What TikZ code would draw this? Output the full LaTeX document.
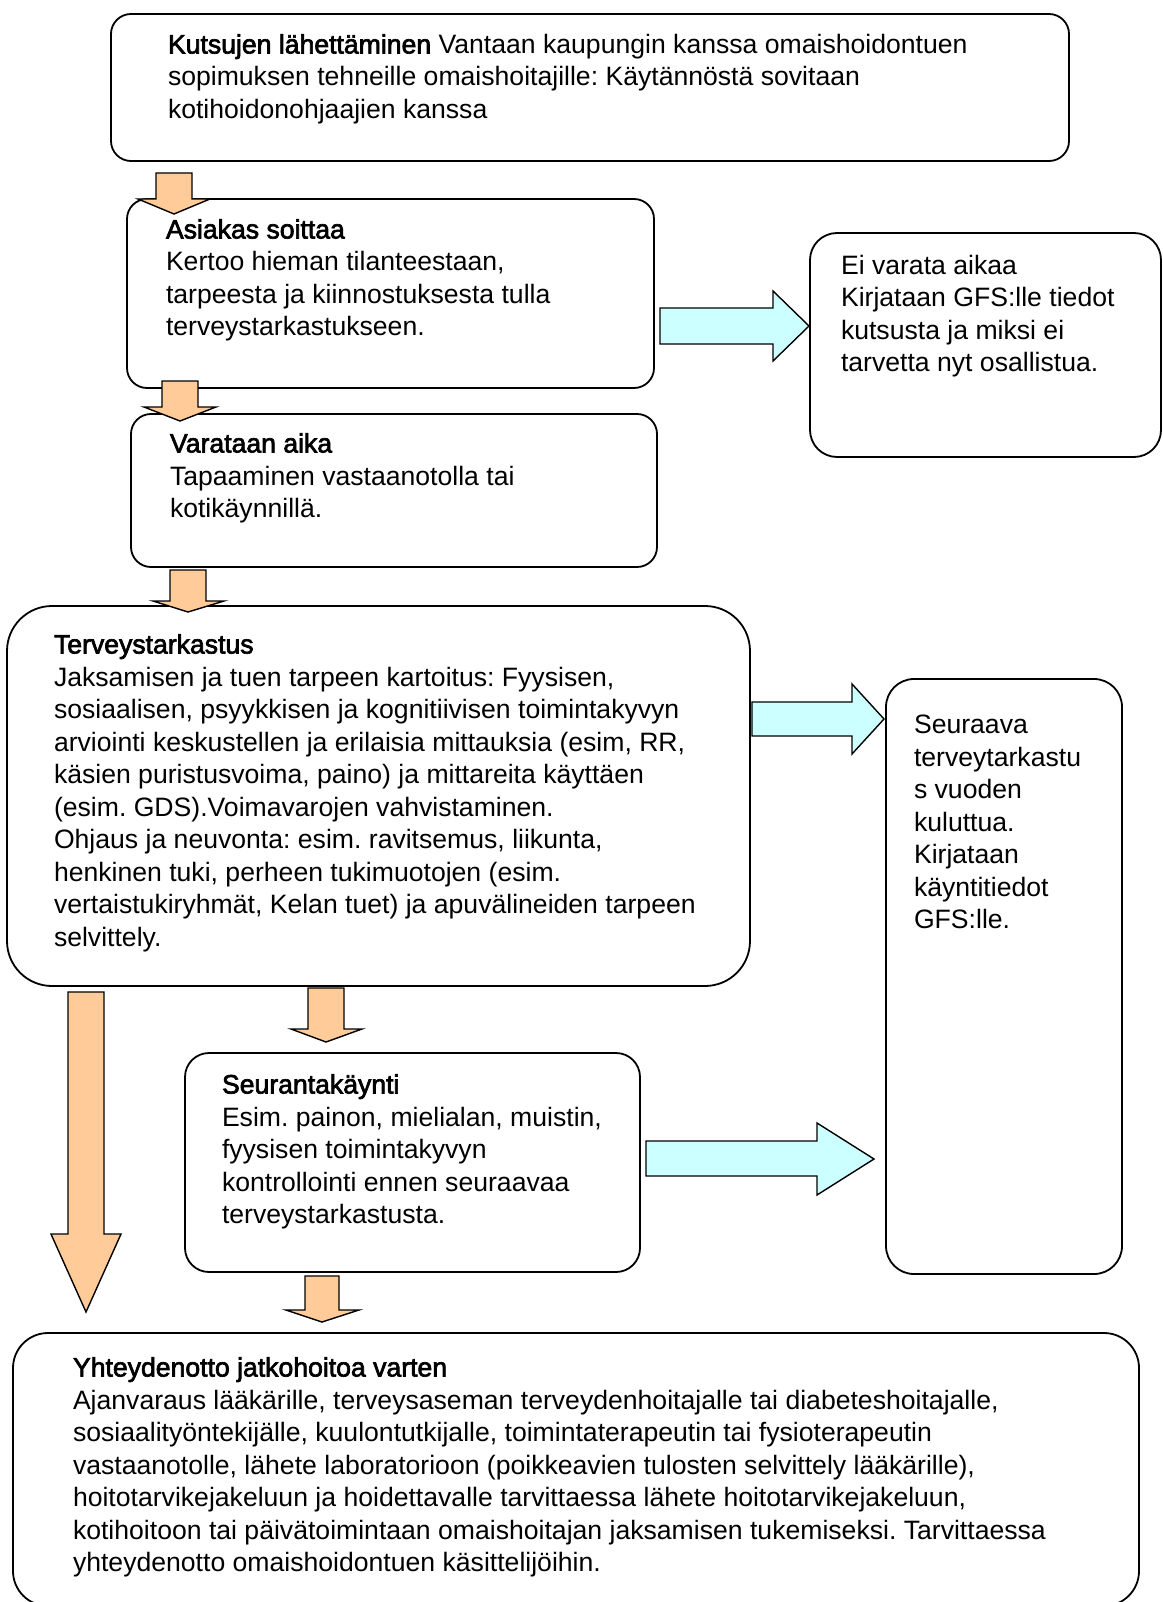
\documentclass[tikz,border=0pt]{standalone}
\usepackage{fontspec}
\setmainfont{Liberation Sans}
\newfontfamily\hfont{Liberation Sans}[FakeBold=2.5]
\definecolor{peach}{HTML}{FFCC99}
\definecolor{aqua}{HTML}{CCFFFF}
\newcommand\downblock[8]{% xL xR top hL hR base tipx tipy
  \draw[oarrow] (#1,#3) -- (#2,#3) -- (#2,#6) -- (#5,#6) -- (#7,#8) -- (#4,#6) -- (#1,#6) -- cycle;}
\newcommand\rightblock[8]{% left sT sB hb hT hB tipx tipy
  \draw[carrow] (#1,#2) -- (#4,#2) -- (#4,#5) -- (#7,#8) -- (#4,#6) -- (#4,#3) -- (#1,#3) -- cycle;}
\newcommand\txtlines[1]{\parbox[t]{1000pt}{\frenchspacing\raggedright #1}}
\begin{document}
\begin{tikzpicture}[x=1pt,y=-1pt,
  box/.style={draw=black, line width=1.8pt, fill=white, inner sep=0pt, outer sep=0pt, anchor=north west},
  txt/.style={anchor=base west, inner sep=0pt, outer sep=0pt, font=\fontsize{26.6pt}{32.5pt}\selectfont},
  oarrow/.style={draw=black, line width=1.4pt, fill=peach, line join=miter},
  carrow/.style={draw=black, line width=1.4pt, fill=aqua, line join=miter}]
\useasboundingbox (0,0) rectangle (1162,1602);
\clip (0,0) rectangle (1162,1602);
\fill[white] (0,0) rectangle (1162,1602);

% boxes
\node[box, rounded corners=20pt, minimum width=958pt, minimum height=147pt] (b1) at (111,14) {};
\node[box, rounded corners=20pt, minimum width=527pt, minimum height=189pt] (b2) at (127,199) {};
\node[box, rounded corners=20pt, minimum width=526pt, minimum height=153pt] (b3) at (131,414) {};
\node[box, rounded corners=45pt, minimum width=743pt, minimum height=380pt] (b4) at (7,606) {};
\node[box, rounded corners=27pt, minimum width=351pt, minimum height=224pt] (b5) at (810,233) {};
\node[box, rounded corners=28pt, minimum width=236pt, minimum height=595pt] (b6) at (886,679) {};
\node[box, rounded corners=24pt, minimum width=455pt, minimum height=219pt] (b7) at (185,1053) {};
\node[box, rounded corners=35pt, minimum width=1126pt, minimum height=273pt] (b8) at (13,1333) {};

% orange down arrows
\downblock{156}{192}{173}{138}{210}{199}{174}{214}
\downblock{162}{198}{381}{144}{216}{407}{180}{421}
\downblock{170}{206}{570}{153}{224}{601}{188}{612}
\downblock{308}{344}{988}{291}{362}{1029}{326}{1042}
\downblock{305}{339}{1276}{286}{359}{1310}{322}{1322}
\downblock{68}{104}{992}{51}{121}{1234}{86}{1312}

% cyan right arrows
\rightblock{660}{308}{344}{773}{291}{361}{809}{326}
\rightblock{752}{702}{736}{852}{684}{754}{884}{719}
\rightblock{646}{1141}{1176}{817}{1123}{1195}{874}{1159}

% texts
\node[txt] (t1) at (168,53.5) {\txtlines{{\hfont Kutsujen lähettäminen} Vantaan kaupungin kanssa omaishoidontuen\\
sopimuksen tehneille omaishoitajille: Käytännöstä sovitaan\\
kotihoidonohjaajien kanssa}};

\node[txt] (t2) at (166,238.5) {\txtlines{{\hfont Asiakas soittaa}\\
Kertoo hieman tilanteestaan,\\
tarpeesta ja kiinnostuksesta tulla\\
terveystarkastukseen.}};

\node[txt] (t3) at (170,452.5) {\txtlines{{\hfont Varataan aika}\\
Tapaaminen vastaanotolla tai\\
kotikäynnillä.}};

\node[txt] (t4) at (54,653.5) {\txtlines{{\hfont Terveystarkastus}\\
Jaksamisen ja tuen tarpeen kartoitus: Fyysisen,\\
sosiaalisen, psyykkisen ja kognitiivisen toimintakyvyn\\
arviointi keskustellen ja erilaisia mittauksia (esim, RR,\\
käsien puristusvoima, paino) ja mittareita käyttäen\\
(esim. GDS).Voimavarojen vahvistaminen.\\
Ohjaus ja neuvonta: esim. ravitsemus, liikunta,\\
henkinen tuki, perheen tukimuotojen (esim.\\
vertaistukiryhmät, Kelan tuet) ja apuvälineiden tarpeen\\
selvittely.}};

\node[txt] (t5) at (841,274.5) {\txtlines{Ei varata aikaa\\
Kirjataan GFS:lle tiedot\\
kutsusta ja miksi ei\\
tarvetta nyt osallistua.}};

\node[txt] (t6) at (914,733.5) {\txtlines{Seuraava\\
terveytarkastu\\
s vuoden\\
kuluttua.\\
Kirjataan\\
käyntitiedot\\
GFS:lle.}};

\node[txt] (t7) at (222,1093.5) {\txtlines{{\hfont Seurantakäynti}\\
Esim. painon, mielialan, muistin,\\
fyysisen toimintakyvyn\\
kontrollointi ennen seuraavaa\\
terveystarkastusta.}};

\node[txt] (t8) at (73,1376.5) {\txtlines{{\hfont Yhteydenotto jatkohoitoa varten}\\
Ajanvaraus lääkärille, terveysaseman terveydenhoitajalle tai diabeteshoitajalle,\\
sosiaalityöntekijälle, kuulontutkijalle, toimintaterapeutin tai fysioterapeutin\\
vastaanotolle, lähete laboratorioon (poikkeavien tulosten selvittely lääkärille),\\
hoitotarvikejakeluun ja hoidettavalle tarvittaessa lähete hoitotarvikejakeluun,\\
kotihoitoon tai päivätoimintaan omaishoitajan jaksamisen tukemiseksi. Tarvittaessa\\
yhteydenotto omaishoidontuen käsittelijöihin.}};
\end{tikzpicture}
\end{document}
